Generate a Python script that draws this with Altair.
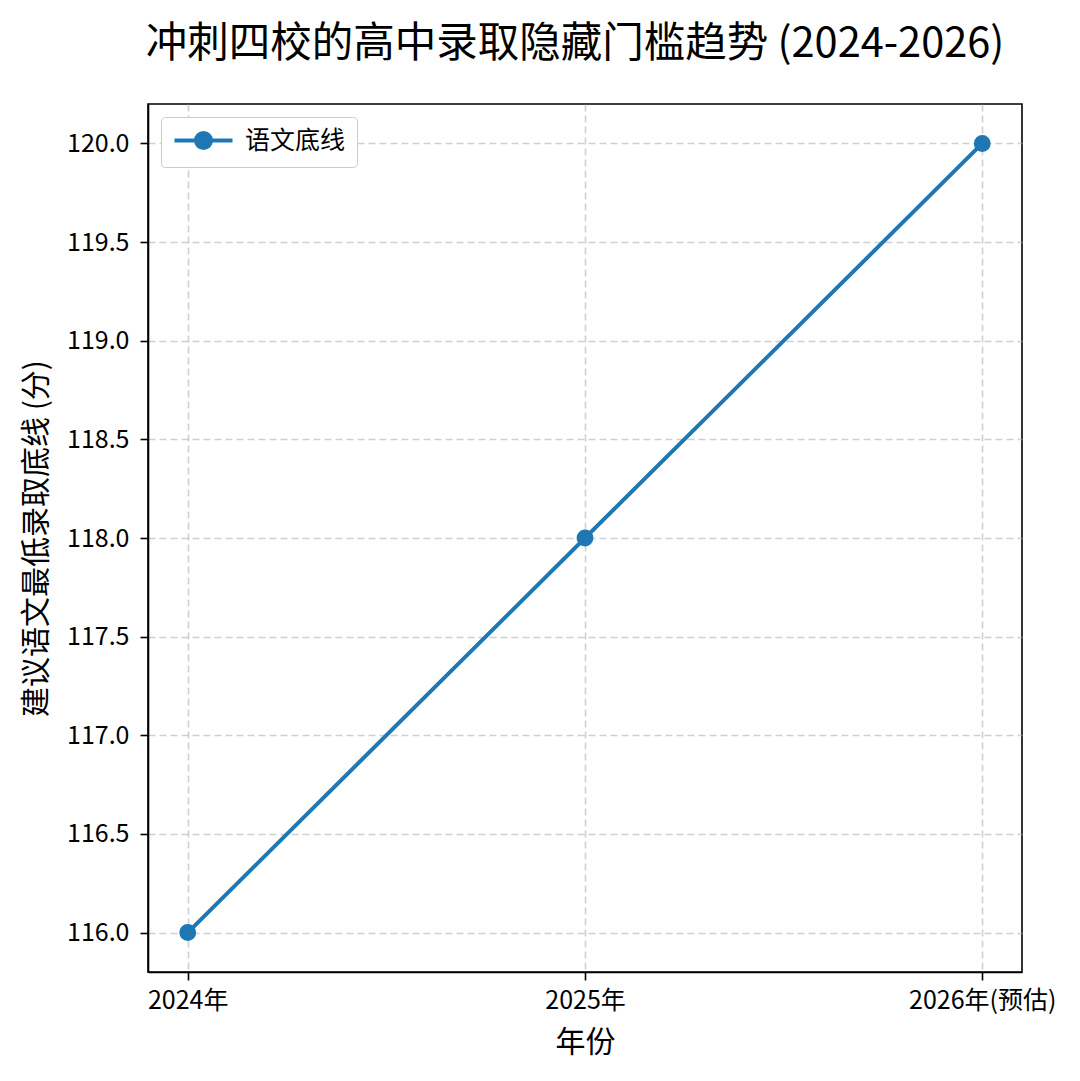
import altair as alt
import pandas as pd

years = ["2024年", "2025年", "2026年(预估)"]
scores = [116.0, 118.0, 120.0]
series_name = "语文底线"
y_ticks = [116.0, 116.5, 117.0, 117.5, 118.0, 118.5, 119.0, 119.5, 120.0]

title_text = "冲刺四校的高中录取隐藏门槛趋势 (2024-2026)"
x_title = "年份"
y_title = "建议语文最低录取底线 (分)"

BLUE = "#1f77b4"
FONT = "Noto Sans CJK SC"

df = pd.DataFrame({"year": years, "score": scores, "series": [series_name] * len(years)})

legend_path = "M-1,0L4.8,0M2.65,0A0.75,0.75,0,1,1,1.15,0A0.75,0.75,0,1,1,2.65,0Z"

leg = alt.Legend(
    title=None,
    orient="none",
    legendX=13,
    legendY=13,
    symbolType=legend_path,
    symbolSize=400,
    symbolStrokeWidth=4,
    symbolFillColor=BLUE,
    symbolStrokeColor=BLUE,
    labelOffset=48,
    labelFontSize=25,
    labelFont=FONT,
    labelColor="black",
    padding=11,
    fillColor="white",
    strokeColor="#cccccc",
    cornerRadius=4,
)

x_enc = alt.X(
    "year:N",
    sort=years,
    scale=alt.Scale(type="point", padding=0.1),
    axis=alt.Axis(
        title=x_title,
        labelAngle=0,
        grid=True,
        tickSize=8,
        labelPadding=8,
        titlePadding=14,
    ),
)
y_enc = alt.Y(
    "score:Q",
    scale=alt.Scale(domain=[115.8, 120.2], nice=False, zero=False),
    axis=alt.Axis(
        title=y_title,
        values=y_ticks,
        format=".1f",
        grid=True,
        tickSize=8,
        labelPadding=11,
        titlePadding=15,
    ),
)

stroke_enc = alt.Stroke("series:N", scale=alt.Scale(domain=[series_name], range=[BLUE]), legend=leg)
fill_enc = alt.Fill("series:N", scale=alt.Scale(domain=[series_name], range=[BLUE]), legend=leg)

line = alt.Chart(df).mark_line(strokeWidth=4).encode(x=x_enc, y=y_enc, stroke=stroke_enc)
points = alt.Chart(df).mark_point(filled=True, size=165, strokeWidth=4, opacity=1).encode(
    x=x_enc, y=y_enc, stroke=stroke_enc, fill=fill_enc
)

chart = (
    alt.layer(line, points)
    .properties(
        width=874,
        height=868,
        background="white",
        title=alt.TitleParams(
            text=title_text,
            fontSize=41.5,
            font=FONT,
            fontWeight="normal",
            color="black",
            anchor="middle",
            offset=39,
            dx=-10,
        ),
        autosize=alt.AutoSizeParams(type="none"),
        padding={"left": 140, "top": 96, "right": 50, "bottom": 100},
    )
    .configure_view(stroke="black", strokeWidth=1.6)
    .configure_axis(
        labelFont=FONT,
        titleFont=FONT,
        labelFontSize=25,
        titleFontSize=30,
        titleFontWeight="normal",
        labelColor="black",
        titleColor="black",
        domainColor="black",
        domainWidth=1.6,
        tickColor="black",
        tickWidth=1.6,
        gridColor="#b0b0b0",
        gridOpacity=0.6,
        gridDash=[7, 4],
        gridWidth=1.6,
    )
)

chart.save("out.html", embed_options={"renderer": "svg", "actions": False})
